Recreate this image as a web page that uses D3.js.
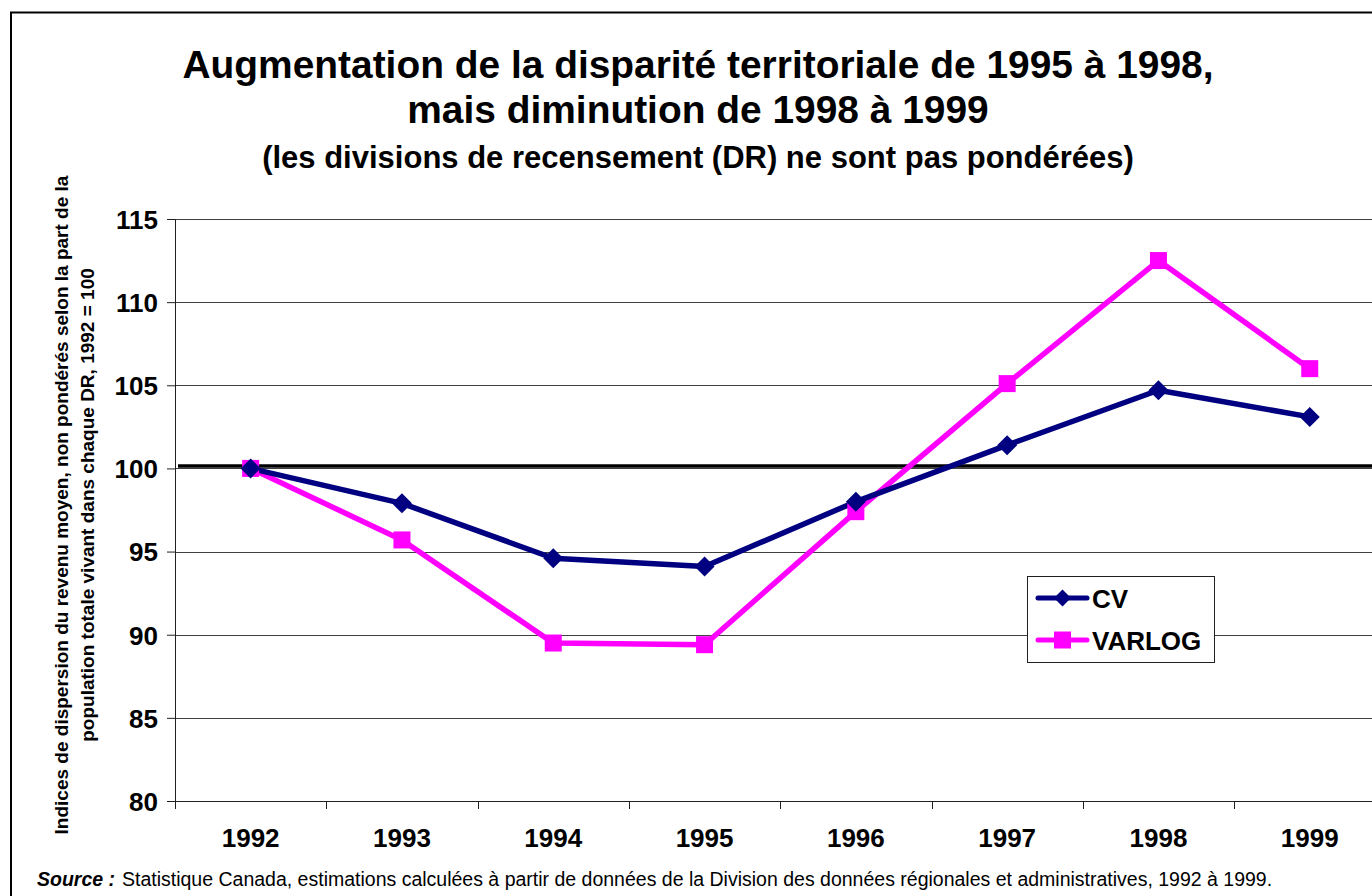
<!DOCTYPE html>
<html>
<head>
<meta charset="utf-8">
<script src="https://d3js.org/d3.v7.min.js"></script>
<style>
	body { margin: 0; background: #fff; }
	text { font-family: Arial, "Liberation Sans", sans-serif; }
</style>
</head>
<body>
<script>
var years = ["1992", "1993", "1994", "1995", "1996", "1997", "1998", "1999"];
var cvValues = [100, 97.9, 94.6, 94.1, 98.0, 101.4, 104.7, 103.1];
var varlogValues = [100, 95.7, 89.5, 89.4, 97.4, 105.1, 112.5, 106.0];
var yTicks = [80, 85, 90, 95, 100, 105, 110, 115];
var refValue = 100.15;

var seriesNames = ["CV", "VARLOG"];
var titleLines = ["Augmentation de la disparité territoriale de 1995 à 1998,", "mais diminution de 1998 à 1999"];
var subTitle = "(les divisions de recensement (DR) ne sont pas pondérées)";
var yTitleLines = ["Indices de dispersion du revenu moyen, non pondérés selon la part de la", "population totale vivant dans chaque DR, 1992 = 100"];

var svgWidth = 1372, svgHeight = 896;
var plot = { left : 175, right : 1385.4, top : 219, bottom : 801 };

var svg = d3.select("body").append("svg")
			.attr("width", svgWidth)
			.attr("height", svgHeight);

// outer frame, runs off the right and bottom edge like the source
svg.append("rect")
	.attr("x", 11).attr("y", 12.5)
	.attr("width", 1380).attr("height", 900)
	.attr("fill", "white")
	.attr("stroke", "black")
	.attr("stroke-width", 2);

// titles
svg.selectAll(".title")
	.data(titleLines)
	.enter()
  .append("text")
	.attr("class", "title")
	.attr("x", 698)
	.attr("y", function(d, i) { return 78 + i * 45; })
	.attr("text-anchor", "middle")
	.style("font-size", "38.9px")
	.style("font-weight", "bold")
	.text(function(d) { return d; });

svg.append("text")
	.attr("x", 698)
	.attr("y", 168)
	.attr("text-anchor", "middle")
	.style("font-size", "31px")
	.style("font-weight", "bold")
	.text(subTitle);

var x = d3.scaleBand()
			.domain(years)
			.range([plot.left, plot.right])
			.padding(0);

var y = d3.scaleLinear()
			.domain([80, 115])
			.range([plot.bottom, plot.top]);

function cx(d, i) { return x(years[i]) + x.bandwidth() / 2; }

// gridlines
svg.append("g")
	.selectAll("line")
	.data(yTicks.slice(1))
	.enter()
  .append("line")
	.attr("x1", plot.left).attr("x2", svgWidth)
	.attr("y1", function(d) { return Math.round(y(d)) + 0.5; })
	.attr("y2", function(d) { return Math.round(y(d)) + 0.5; })
	.attr("stroke", "#404040")
	.attr("stroke-width", 1);

// y axis
var yAxis = svg.append("g")
			.attr("transform", "translate(" + plot.left + ",0)")
			.call(d3.axisLeft(y).tickValues(yTicks).tickSize(8).tickPadding(9).tickFormat(d3.format("d")));
yAxis.select(".domain").attr("stroke", "#202020");
yAxis.selectAll(".tick line").attr("stroke", "#202020");
yAxis.selectAll("text")
	.attr("dy", "0.36em")
	.style("font-size", "26px")
	.style("font-weight", "bold")
	.style("font-family", "Arial, 'Liberation Sans', sans-serif")
	.attr("fill", "black");

// x axis, ticks between categories
var xAxis = svg.append("g")
			.attr("transform", "translate(0," + plot.bottom + ")");
xAxis.append("line")
	.attr("x1", plot.left - 8).attr("x2", svgWidth)
	.attr("y1", 0.5).attr("y2", 0.5)
	.attr("stroke", "#202020");
xAxis.selectAll(".xtick")
	.data(years.concat(["end"]))
	.enter()
  .append("line")
	.attr("class", "xtick")
	.attr("x1", function(d, i) { return Math.round(plot.left + i * x.bandwidth()) + 0.5; })
	.attr("x2", function(d, i) { return Math.round(plot.left + i * x.bandwidth()) + 0.5; })
	.attr("y1", 0).attr("y2", 8)
	.attr("stroke", "#202020");
xAxis.selectAll(".xlab")
	.data(years)
	.enter()
  .append("text")
	.attr("class", "xlab")
	.attr("x", cx)
	.attr("y", 46)
	.attr("text-anchor", "middle")
	.style("font-size", "26px")
	.style("font-weight", "bold")
	.text(function(d) { return d; });

// reference line near 100
svg.append("line")
	.attr("x1", plot.left + 3).attr("x2", svgWidth)
	.attr("y1", y(refValue)).attr("y2", y(refValue))
	.attr("stroke", "black")
	.attr("stroke-width", 3.5);

// y axis title
var yTitle = svg.append("text")
			.attr("transform", "translate(68,505) rotate(-90)")
			.attr("text-anchor", "middle")
			.style("font-size", "19px")
			.style("font-weight", "bold");
yTitle.selectAll("tspan")
	.data(yTitleLines)
	.enter()
  .append("tspan")
	.attr("x", 0)
	.attr("dy", function(d, i) { return i == 0 ? 0 : 26; })
	.text(function(d) { return d; });

// series
var line = d3.line()
			.x(cx)
			.y(function(d) { return y(d); });

svg.append("path")
	.datum(varlogValues)
	.attr("d", line)
	.attr("fill", "none")
	.attr("stroke", "#FF00FF")
	.attr("stroke-width", 5.5)
	.attr("stroke-linejoin", "round");

svg.append("path")
	.datum(cvValues)
	.attr("d", line)
	.attr("fill", "none")
	.attr("stroke", "#000080")
	.attr("stroke-width", 5.5)
	.attr("stroke-linejoin", "round");

svg.selectAll(".sq")
	.data(varlogValues)
	.enter()
  .append("rect")
	.attr("class", "sq")
	.attr("x", function(d, i) { return cx(d, i) - 8.5; })
	.attr("y", function(d) { return y(d) - 8.5; })
	.attr("width", 17).attr("height", 17)
	.attr("fill", "#FF00FF");

svg.selectAll(".dia")
	.data(cvValues)
	.enter()
  .append("path")
	.attr("class", "dia")
	.attr("d", function(d, i) {
		var px = cx(d, i), py = y(d), r = 10;
		return "M" + px + "," + (py - r) + "L" + (px + r) + "," + py + "L" + px + "," + (py + r) + "L" + (px - r) + "," + py + "Z";
	})
	.attr("fill", "#000080");

// legend
var legend = svg.append("g").attr("transform", "translate(1027,576)");
legend.append("rect")
	.attr("x", 0.5).attr("y", 0.5)
	.attr("width", 187).attr("height", 86)
	.attr("fill", "white")
	.attr("stroke", "#202020");
var legendColors = ["#000080", "#FF00FF"];
var items = legend.selectAll(".item")
			.data(seriesNames)
			.enter()
		  .append("g")
			.attr("transform", function(d, i) { return "translate(0," + (22 + i * 42) + ")"; });
items.append("line")
	.attr("x1", 11).attr("x2", 60)
	.attr("stroke", function(d, i) { return legendColors[i]; })
	.attr("stroke-width", 5)
	.attr("stroke-linecap", "round");
items.append("path")
	.attr("d", function(d, i) {
		return i == 0 ? "M35.5,-8.5L44,0L35.5,8.5L27,0Z" : "M27,-8.5H44V8.5H27Z";
	})
	.attr("fill", function(d, i) { return legendColors[i]; });
items.append("text")
	.attr("x", 65)
	.attr("y", 9.5)
	.style("font-size", "26px")
	.style("font-weight", "bold")
	.text(function(d) { return d; });

// source note
var note = svg.append("text")
			.attr("x", 37)
			.attr("y", 886)
			.style("font-size", "19.5px");
note.append("tspan")
	.style("font-weight", "bold")
	.style("font-style", "italic")
	.text("Source :");
note.append("tspan")
	.attr("x", 122)
	.text("Statistique Canada, estimations calculées à partir de données de la Division des données régionales et administratives, 1992 à 1999.");
</script>
</body>
</html>
